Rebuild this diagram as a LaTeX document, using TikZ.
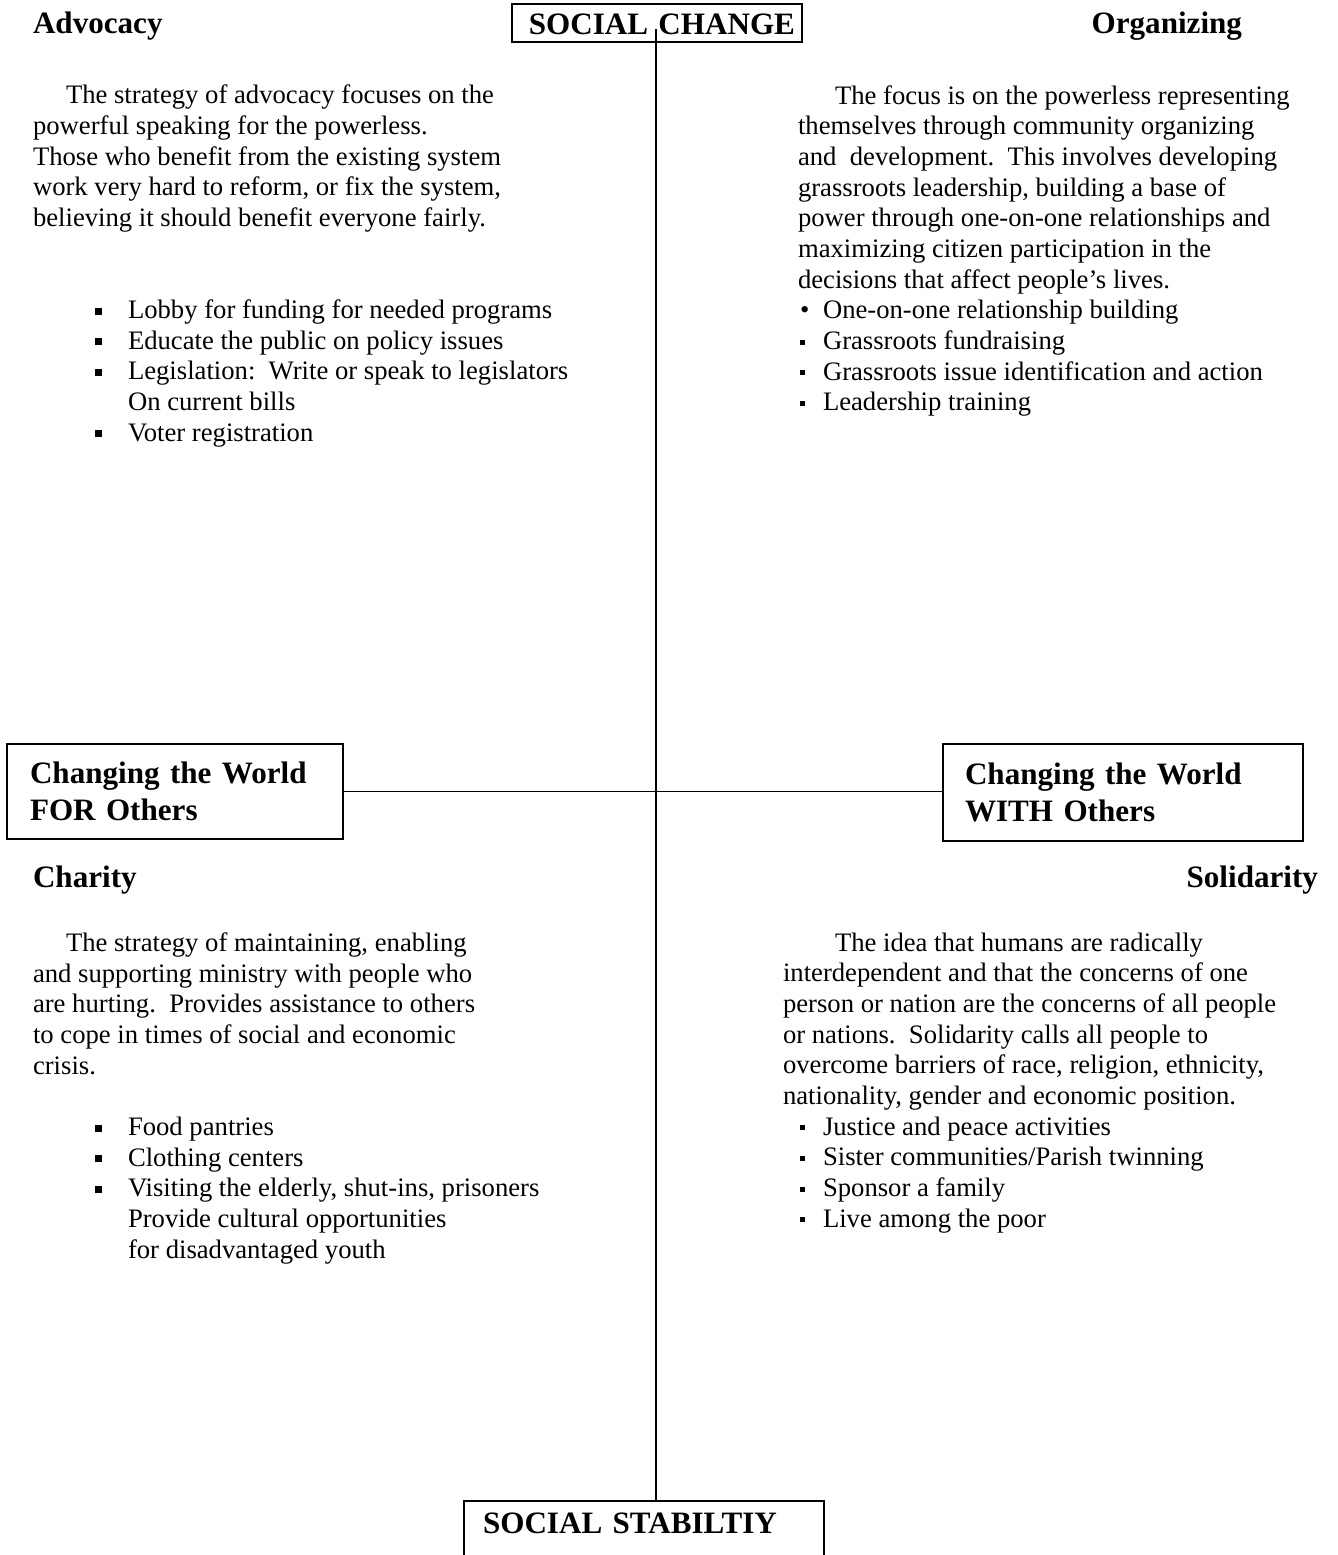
\documentclass[tikz,border=0pt]{standalone}
\usepackage{fontspec}
\setmainfont{Liberation Serif}
\usetikzlibrary{positioning}
\frenchspacing
\newcommand{\bigsq}{\rule[1.6pt]{3.2pt}{3.2pt}}
\newcommand{\smlsq}{\rule[2.1pt]{2.3pt}{2.3pt}}
\newcommand{\lbul}[1]{\hspace*{27.9pt}\makebox[14.85pt][l]{\bigsq}#1}
\newcommand{\lcont}[1]{\hspace*{42.75pt}#1}
\newcommand{\rbul}[3]{\hspace*{#1}\makebox[#2][l]{\smlsq}#3}

\begin{document}
\begin{tikzpicture}[x=0.45pt, y=-0.45pt,
    every node/.style={inner sep=0pt, outer sep=0pt},
    head/.style={font=\fontsize{14}{16.6}\selectfont\bfseries},
    body/.style={font=\fontsize{12}{13.8}\selectfont, align=left, anchor=base west},
    tagbox/.style={draw, line width=0.9pt, font=\fontsize{14}{16.6}\selectfont\bfseries},
    axis/.style={line width=0.8pt}]
        \useasboundingbox (0,0) rectangle (1337,1555);

        \node[tagbox, anchor=north west, inner xsep=3.15pt, text width=124.2pt, align=right,
              text height=13.95pt, text depth=3.15pt] (change) at (512,4) {SOCIAL CHANGE};
        \node[tagbox, anchor=north west, inner xsep=8.55pt, text width=144.9pt, align=left,
              text height=14.4pt, text depth=18pt] (stab) at (464,1501) {SOCIAL STABILTIY};
        \node[tagbox, anchor=north west, inner xsep=10.35pt, text width=130.5pt, align=left,
              minimum height=42.75pt] (for) at (7,744) {\raisebox{-0.9pt}{Changing the World}\\\raisebox{-0.9pt}{FOR Others}};
        \node[tagbox, anchor=north west, inner xsep=9.9pt, text width=142.2pt, align=left,
              minimum height=43.65pt] (with) at (943,744) {\raisebox{-0.9pt}{Changing the World}\\\raisebox{-0.9pt}{WITH Others}};

        \coordinate (axtop) at (656,29);
        \draw[axis] (axtop) -- (axtop |- stab.north);
        \draw[axis] (for.east) -- (for.east -| with.west);

        \node[head, anchor=base west] (advh) at (33,34) {Advocacy};
        \node[head, anchor=base east] (orgh) at (1242,34) {Organizing};
        \node[head, anchor=base west] (charh) at (33,887) {Charity};
        \node[head, anchor=base east] (solh) at (1318,887) {Solidarity};

        \node[body] (adv) at (33,441) {%
            \hspace*{14.85pt}The strategy of advocacy focuses on the\\
            powerful speaking for the powerless.\\
            Those who benefit from the existing system\\
            work very hard to reform, or fix the system,\\
            believing it should benefit everyone fairly.\\[27.6pt]
            \lbul{Lobby for funding for needed programs}\\
            \lbul{Educate the public on policy issues}\\
            \lbul{Legislation:~ Write or speak to legislators}\\
            \lcont{On current bills}\\
            \lbul{Voter registration}};

        \node[body] (org) at (798,410.7) {%
            \hspace*{16.65pt}The focus is on the powerless representing\\
            themselves through community organizing\\
            and~ development.~ This involves developing\\
            grassroots leadership, building a base of\\
            power through one-on-one relationships and\\
            maximizing citizen participation in the\\
            decisions that affect people’s lives.\\
            \hspace*{0.9pt}\makebox[10.35pt][l]{\textbullet}One-on-one relationship building\\
            \rbul{0.9pt}{10.35pt}{Grassroots fundraising}\\
            \rbul{0.9pt}{10.35pt}{Grassroots issue identification and action}\\
            \rbul{0.9pt}{10.35pt}{Leadership training}};

        \node[body] (char) at (33,1258) {%
            \hspace*{14.85pt}The strategy of maintaining, enabling\\
            and supporting ministry with people who\\
            are hurting.~ Provides assistance to others\\
            to cope in times of social and economic\\
            crisis.\\[13.8pt]
            \lbul{Food pantries}\\
            \lbul{Clothing centers}\\
            \lbul{Visiting the elderly, shut-ins, prisoners}\\
            \lcont{Provide cultural opportunities}\\
            \lcont{for disadvantaged youth}};

        \node[body] (sol) at (783,1227) {%
            \hspace*{23.4pt}The idea that humans are radically\\
            interdependent and that the concerns of one\\
            person or nation are the concerns of all people\\
            or nations.~ Solidarity calls all people to\\
            overcome barriers of race, religion, ethnicity,\\
            nationality, gender and economic position.\\
            \rbul{7.65pt}{10.35pt}{Justice and peace activities}\\
            \rbul{7.65pt}{10.35pt}{Sister communities/Parish twinning}\\
            \rbul{7.65pt}{10.35pt}{Sponsor a family}\\
            \rbul{7.65pt}{10.35pt}{Live among the poor}};
    \end{tikzpicture}
\end{document}
